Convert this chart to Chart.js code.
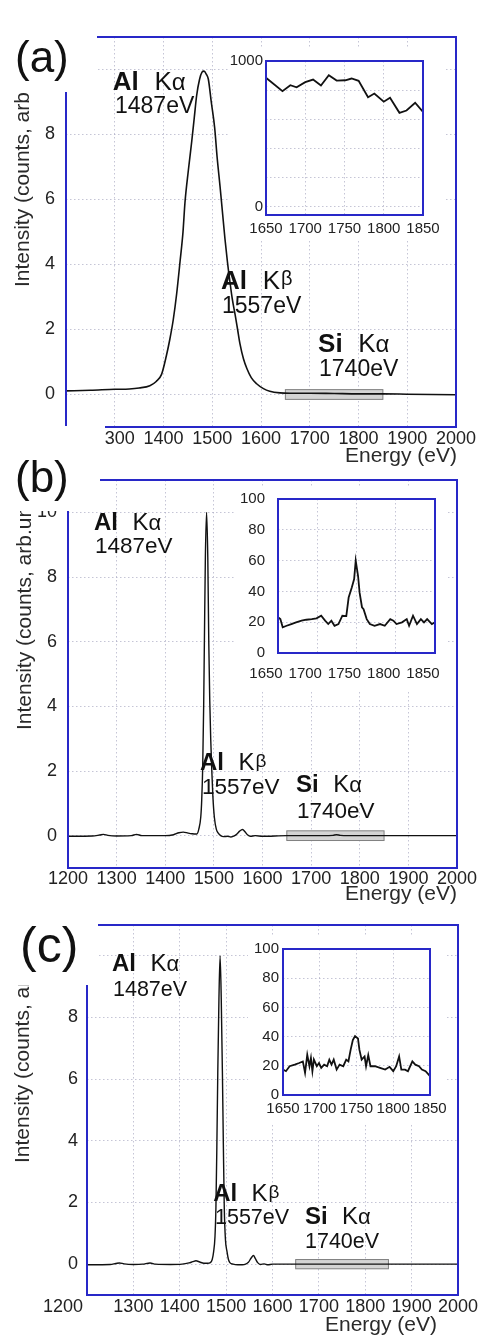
<!DOCTYPE html>
<html>
<head>
<meta charset="utf-8">
<script src="https://cdn.jsdelivr.net/npm/chart.js@4.4.1/dist/chart.umd.min.js"></script>
<style>
  html, body { margin: 0; padding: 0; background: #fff; }
  #page { position: relative; width: 478px; height: 1338px; overflow: hidden; }
  canvas { position: absolute; }
  .inset { background: #fff; }
</style>
</head>
<body>
<div id="page">
  <canvas id="mainA" width="478" height="470" style="left:0;top:0"></canvas>
  <canvas id="insetA" class="inset" width="218" height="192" style="left:228px;top:48px"></canvas>
  <canvas id="mainB" width="478" height="470" style="left:0;top:440px"></canvas>
  <canvas id="insetB" class="inset" width="212" height="202" style="left:234px;top:488px"></canvas>
  <canvas id="mainC" width="478" height="458" style="left:0;top:880px"></canvas>
  <canvas id="insetC" class="inset" width="198" height="188" style="left:248px;top:936px"></canvas>
</div>
<script>
// axis ticks
const xTicks = [1200, 1300, 1400, 1500, 1600, 1700, 1800, 1900, 2000];
const yTicks = [0, 2, 4, 6, 8, 10];
const insetXTicks = [1650, 1700, 1750, 1800, 1850];
const insetATicks = [0, 200, 400, 600, 800, 1000];
const insetBCTicks = [0, 20, 40, 60, 80, 100];
const siWindow = [1650, 1850];

// (a) main spectrum
const energyA = [1200, 1250, 1300, 1330, 1350, 1372, 1385, 1396, 1406, 1413, 1420, 1427, 1434, 1440, 1444, 1451, 1458, 1463, 1468, 1474,
  1479, 1483, 1488, 1492, 1498, 1505, 1510, 1516, 1521, 1526, 1531, 1536, 1541, 1547, 1552, 1557, 1564, 1571, 1580, 1591,
  1605, 1618, 1639, 1660, 1700, 1750, 1800, 1850, 1900, 1950, 2000];
const intensityA = [0.11, 0.13, 0.16, 0.17, 0.2, 0.27, 0.4, 0.62, 1.2, 1.7, 2.3, 3.1, 4.1, 5.0, 5.9, 6.9, 7.8, 8.5, 9.2, 9.7,
  9.92, 9.95, 9.85, 9.7, 9.0, 8.2, 7.3, 6.4, 5.6, 4.8, 4.1, 3.5, 2.95, 2.45, 2.0, 1.55, 1.1, 0.8, 0.52, 0.33,
  0.18, 0.1, 0.05, 0.04, 0.04, 0.03, 0.02, 0.02, 0.01, 0.0, -0.01];

// (b) main spectrum
const energyB = [1200, 1250, 1265, 1273, 1282, 1300, 1330, 1341, 1352, 1380, 1400, 1417, 1428, 1437, 1447, 1455, 1462, 1465, 1469, 1473,
  1475, 1477, 1479, 1480.5, 1482.5, 1485, 1487.5, 1489.5, 1491.5, 1493.5, 1495.5, 1498, 1501, 1505, 1509, 1514, 1520, 1528, 1535, 1542,
  1548, 1553, 1559, 1564, 1569, 1575, 1585, 1600, 1650, 1700, 1745, 1752, 1760, 1800, 1900, 2000];
const intensityB = [-0.02, -0.01, 0.02, 0.04, 0.01, -0.01, 0.0, 0.04, 0.0, 0.0, 0.0, 0.03, 0.09, 0.11, 0.08, 0.06, 0.05, 0.05, 0.2, 0.57,
  1.1, 2.1, 4.0, 6.0, 8.6, 10.0, 8.6, 6.0, 4.2, 3.0, 2.1, 1.2, 0.57, 0.2, 0.08, 0.0, -0.03, -0.02, -0.04, -0.01,
  0.06, 0.14, 0.19, 0.12, 0.03, -0.02, 0.0, -0.02, 0.0, 0.0, 0.01, 0.03, 0.01, 0.0, 0.0, 0.0];

// (c) main spectrum
const energyC = [1200, 1250, 1262, 1270, 1280, 1300, 1320, 1336, 1348, 1380, 1405, 1420, 1428, 1435, 1443, 1452, 1460, 1466, 1470, 1473,
  1476, 1478, 1480, 1482, 1484.5, 1487, 1489.5, 1492, 1494, 1496, 1498.5, 1502, 1505, 1508, 1515, 1525, 1535, 1542, 1548, 1554,
  1559, 1563, 1568, 1574, 1582, 1590, 1600, 1650, 1700, 1800, 1900, 2000];
const intensityC = [-0.02, -0.01, 0.02, 0.04, 0.01, -0.01, 0.0, 0.04, 0.0, -0.01, 0.0, 0.04, 0.08, 0.11, 0.07, 0.03, 0.03, 0.05, 0.15, 0.4,
  0.9, 1.84, 3.8, 6.2, 8.6, 10.0, 8.6, 6.2, 3.9, 1.84, 0.8, 0.4, 0.15, 0.05, 0.0, -0.02, -0.02, 0.0, 0.06, 0.2,
  0.28, 0.18, 0.05, -0.01, 0.01, -0.02, 0.0, 0.0, 0.0, 0.0, 0.0, 0.0];

// insets, 1650-1850 eV
const insetEnergyA = [1650, 1671, 1681, 1689, 1700, 1710, 1720, 1730, 1740, 1751, 1759, 1768, 1780, 1788, 1800, 1808, 1820, 1829, 1840, 1850];
const insetCountsA = [885, 793, 834, 820, 855, 873, 832, 903, 866, 868, 880, 864, 752, 777, 721, 748, 645, 661, 714, 652];

const insetEnergyB = [1650, 1653, 1656, 1661, 1667, 1673, 1680, 1686, 1693, 1699, 1705, 1710, 1714, 1718, 1722, 1727, 1732, 1737, 1740, 1744,
  1747, 1749, 1752, 1754, 1757, 1759, 1763, 1767, 1773, 1780, 1786, 1793, 1797, 1801, 1808, 1814, 1817, 1822, 1827, 1832,
  1836, 1840, 1846, 1850];
const insetCountsB = [23.2, 22, 16.7, 17.7, 18.8, 19.9, 21, 21.6, 22, 22.5, 24.2, 21, 18.8, 21, 17.7, 18.8, 24.2, 24, 36, 42.6,
  48, 60, 50, 39, 29.7, 28.5, 22, 18.8, 17.7, 18.8, 17.7, 22, 21, 18.8, 19.9, 22, 17.7, 24.2, 18.8, 22,
  19.9, 22, 18.8, 20];

const insetEnergyC = [1650, 1654, 1659, 1666, 1672, 1677, 1680, 1683, 1686, 1688, 1690, 1692, 1696, 1699, 1702, 1706, 1710, 1713, 1716, 1719,
  1723, 1727, 1732, 1736, 1739, 1742, 1745, 1748, 1752, 1754, 1757, 1761, 1763, 1766, 1769, 1775, 1782, 1789, 1795, 1800,
  1804, 1808, 1811, 1816, 1820, 1826, 1830, 1835, 1839, 1844, 1850];
const insetCountsC = [17.4, 16.3, 19.7, 20.8, 21.9, 23, 15.2, 27.5, 19.7, 25.3, 16.3, 24.2, 19.7, 21.9, 18.6, 20.8, 19.7, 24.2, 20.8, 24.2,
  17.4, 20.8, 19.7, 24.2, 23, 30.9, 37.6, 40.3, 38.7, 30.9, 24.2, 26.4, 19.7, 27.3, 19.7, 19.7, 18.6, 17.4, 19.3, 16.3,
  19.7, 26.4, 17.4, 17.4, 16.3, 23, 20.8, 19.7, 17.4, 16.3, 13];

// styles
const FONT = '"Liberation Sans", Arial, Helvetica, sans-serif';
const FRAME_BLUE = '#2828c8';
const GRID = 'rgba(150, 150, 180, 0.55)';
const GRID_DASH = [1.5, 2.5];
const TEXT = '#2a2a2a';
const Y_TITLE = 'Intensity (counts, arb.units)';
const siBoxHalf = 0.15;

Chart.defaults.font.family = FONT;
Chart.defaults.color = '#222';

const pts = (xs, ys) => xs.map((x, i) => ({ x, y: ys[i] }));

function peakName(ctx, px, py, el, greek, s) {
  ctx.font = `bold ${s}px ${FONT}`;
  ctx.fillText(el, px, py);
  let cx = px + ctx.measureText(el).width + s * 0.6;
  ctx.font = `${s}px ${FONT}`;
  ctx.fillText('K', cx, py);
  cx += ctx.measureText('K').width;
  if (greek === 'α') {
    ctx.font = `${Math.round(s * 0.92)}px ${FONT}`;
    ctx.fillText('α', cx, py);
  } else {
    ctx.font = `${Math.round(s * 0.78)}px ${FONT}`;
    ctx.fillText('β', cx + 1, py - s * 0.12);
  }
}

function panelDecor(p) {
  return {
    id: 'panelDecor',
    beforeDatasetsDraw(chart) {
      const { ctx, scales: { x, y } } = chart;
      const l = x.getPixelForValue(siWindow[0]);
      const r = x.getPixelForValue(siWindow[1]);
      const t = y.getPixelForValue(siBoxHalf);
      const b = y.getPixelForValue(-siBoxHalf);
      ctx.save();
      ctx.fillStyle = '#d4d4d4';
      ctx.strokeStyle = '#808080';
      ctx.lineWidth = 1;
      ctx.fillRect(l, t, r - l, b - t);
      ctx.strokeRect(l, t, r - l, b - t);
      ctx.restore();
    },
    afterDraw(chart) {
      const { ctx, chartArea: a, scales: { x, y } } = chart;
      const top = p.top;
      ctx.save();
      ctx.strokeStyle = FRAME_BLUE;
      ctx.lineWidth = 2;
      ctx.strokeRect(a.left, a.top, a.right - a.left, a.bottom - a.top);

      // y title, partly hidden by the cover below
      ctx.fillStyle = TEXT;
      ctx.font = `21px ${FONT}`;
      ctx.save();
      ctx.translate(p.yTitle[0], p.yTitle[1] - top);
      ctx.rotate(-Math.PI / 2);
      ctx.textBaseline = 'middle';
      ctx.fillText(Y_TITLE, 0, 0);
      ctx.restore();

      ctx.fillStyle = '#fff';
      p.covers.forEach(([cx, cy, w, h]) => ctx.fillRect(cx, cy - top, w, h));

      ctx.fillStyle = '#111';
      ctx.textBaseline = 'alphabetic';
      ctx.font = `${p.tag.size}px ${FONT}`;
      ctx.fillText(p.tag.text, p.tag.x, p.tag.y - top);

      ctx.fillStyle = TEXT;
      ctx.font = `21px ${FONT}`;
      ctx.textAlign = 'right';
      ctx.fillText('Energy (eV)', p.xTitle[0], p.xTitle[1] - top);

      if (p.shiftedTick) {
        ctx.fillStyle = '#222';
        ctx.font = `18px ${FONT}`;
        ctx.textAlign = 'center';
        ctx.textBaseline = 'middle';
        ctx.fillText(String(p.shiftedTick.value), x.getPixelForValue(p.shiftedTick.value) + p.shiftedTick.dx,
          x.top + p.xPad + 18 * 1.2 / 2);
        ctx.textBaseline = 'alphabetic';
      }

      ctx.textAlign = 'left';
      ctx.fillStyle = '#111';
      p.notes.forEach(n => {
        const px = x.getPixelForValue(n.e);
        const py = y.getPixelForValue(n.v);
        if (n.text) {
          ctx.font = `${p.valueSize}px ${FONT}`;
          ctx.fillText(n.text, px, py);
        } else {
          peakName(ctx, px, py, n.name, n.greek, p.nameSize);
        }
      });
      ctx.restore();
    }
  };
}

function mainChart(id, energy, intensity, p) {
  const hidden = p.shiftedTick ? [p.shiftedTick.value] : [];
  return new Chart(document.getElementById(id), {
    type: 'line',
    data: {
      datasets: [{
        data: pts(energy, intensity),
        borderColor: '#111',
        borderWidth: p.lineWidth,
        pointRadius: 0,
        cubicInterpolationMode: 'monotone',
        fill: false
      }]
    },
    options: {
      responsive: false,
      animation: false,
      layout: { padding: { top: p.padTop, right: p.padRight, left: 0, bottom: 0 } },
      plugins: { legend: { display: false }, tooltip: { enabled: false } },
      scales: {
        x: {
          type: 'linear', min: 1200, max: 2000,
          afterBuildTicks: s => { s.ticks = xTicks.map(v => ({ value: v })); },
          afterFit: s => { s.height = p.xHeight; s.paddingLeft = 0; s.paddingRight = 0; },
          grid: { color: GRID, drawTicks: false },
          border: { display: false, dash: GRID_DASH },
          ticks: {
            font: { size: 18 }, color: '#222', padding: p.xPad, maxRotation: 0, autoSkip: false,
            callback: v => hidden.includes(v) ? '' : String(v)
          }
        },
        y: {
          type: 'linear', min: -1, max: 11,
          afterBuildTicks: s => { s.ticks = yTicks.map(v => ({ value: v })); },
          afterFit: s => { s.width = p.yWidth; s.paddingTop = 0; s.paddingBottom = 0; },
          grid: { color: GRID, drawTicks: false },
          border: { display: false, dash: GRID_DASH },
          ticks: { font: { size: 18 }, color: '#222', padding: p.yPad, callback: v => String(v) }
        }
      }
    },
    plugins: [panelDecor(p)]
  });
}

function insetChart(id, energy, counts, q) {
  return new Chart(document.getElementById(id), {
    type: 'line',
    data: {
      datasets: [{
        data: pts(energy, counts),
        borderColor: '#111',
        borderWidth: 1.8,
        pointRadius: 0,
        tension: 0,
        fill: false
      }]
    },
    options: {
      responsive: false,
      animation: false,
      layout: { padding: { top: q.padTop, right: q.padRight, left: 0, bottom: 0 } },
      plugins: { legend: { display: false }, tooltip: { enabled: false } },
      scales: {
        x: {
          type: 'linear', min: 1650, max: 1850,
          afterBuildTicks: s => { s.ticks = insetXTicks.map(v => ({ value: v })); },
          afterFit: s => { s.height = q.xHeight; s.paddingLeft = 0; s.paddingRight = 0; },
          grid: { color: GRID, drawTicks: false },
          border: { display: false, dash: GRID_DASH },
          ticks: {
            font: { size: 15 }, color: '#222', padding: q.xPad, labelOffset: q.labelOffset,
            maxRotation: 0, autoSkip: false, callback: v => String(v)
          }
        },
        y: {
          type: 'linear', min: q.yMin, max: q.yMax,
          afterBuildTicks: s => { s.ticks = q.yTicks.map(v => ({ value: v })); },
          afterFit: s => { s.width = q.yWidth; s.paddingTop = 0; s.paddingBottom = 0; },
          grid: { color: GRID, drawTicks: false },
          border: { display: false, dash: GRID_DASH },
          ticks: {
            font: { size: 15 }, color: '#222', padding: q.yPad,
            callback: v => q.yLabels.includes(v) ? String(v) : ''
          }
        }
      }
    },
    plugins: [{
      id: 'insetBox',
      afterDraw(chart) {
        const { ctx, chartArea: a } = chart;
        ctx.save();
        ctx.strokeStyle = FRAME_BLUE;
        ctx.lineWidth = 2;
        ctx.strokeRect(a.left, a.top, a.right - a.left, a.bottom - a.top);
        ctx.restore();
      }
    }]
  });
}

mainChart('mainA', energyA, intensityA, {
  top: 0, padTop: 37, padRight: 22, yWidth: 66, xHeight: 43, xPad: 1, yPad: 11, lineWidth: 1.6,
  yTitle: [23, 287], xTitle: [457, 462],
  covers: [[0, 0, 97, 92], [0, 426, 105, 26]],
  tag: { text: '(a)', x: 15, y: 72, size: 44 },
  nameSize: 26, valueSize: 23,
  notes: [
    { name: 'Al', greek: 'α', e: 1296, v: 9.38 }, { text: '1487eV', e: 1300.5, v: 8.65 },
    { name: 'Al', greek: 'β', e: 1518, v: 3.26 }, { text: '1557eV', e: 1520, v: 2.52 },
    { name: 'Si', greek: 'α', e: 1717, v: 1.32 }, { text: '1740eV', e: 1719, v: 0.58 }
  ]
});

mainChart('mainB', energyB, intensityB, {
  top: 440, padTop: 40, padRight: 21, yWidth: 68, xHeight: 42, xPad: 0, yPad: 11, lineWidth: 1.4,
  yTitle: [25, 730], xTitle: [457, 900],
  covers: [[0, 447, 100, 64]],
  tag: { text: '(b)', x: 15, y: 492, size: 44 },
  nameSize: 24, valueSize: 22.5,
  notes: [
    { name: 'Al', greek: 'α', e: 1253.5, v: 9.44 }, { text: '1487eV', e: 1255.5, v: 8.73 },
    { name: 'Al', greek: 'β', e: 1471.5, v: 2.02 }, { text: '1557eV', e: 1475.6, v: 1.30 },
    { name: 'Si', greek: 'α', e: 1669, v: 1.34 }, { text: '1740eV', e: 1671, v: 0.56 }
  ]
});

mainChart('mainC', energyC, intensityC, {
  top: 880, padTop: 45, padRight: 20, yWidth: 87, xHeight: 43, xPad: 1, yPad: 9, lineWidth: 1.4,
  yTitle: [23, 1163], xTitle: [437, 1331],
  covers: [[0, 890, 98, 95]],
  tag: { text: '(c)', x: 20, y: 962, size: 50 },
  shiftedTick: { value: 1200, dx: -24 },
  nameSize: 24, valueSize: 21.5,
  notes: [
    { name: 'Al', greek: 'α', e: 1254, v: 9.51 }, { text: '1487eV', e: 1256, v: 8.69 },
    { name: 'Al', greek: 'β', e: 1472, v: 2.06 }, { text: '1557eV', e: 1476, v: 1.31 },
    { name: 'Si', greek: 'α', e: 1670, v: 1.31 }, { text: '1740eV', e: 1670, v: 0.52 }
  ]
});

insetChart('insetA', insetEnergyA, insetCountsA, {
  padTop: 13, padRight: 23, yWidth: 38, xHeight: 25, xPad: 5, yPad: 3, labelOffset: 0,
  yMin: -55, yMax: 1000, yTicks: insetATicks, yLabels: [0, 1000]
});
insetChart('insetB', insetEnergyB, insetCountsB, {
  padTop: 11, padRight: 11, yWidth: 44, xHeight: 37, xPad: 12, yPad: 13, labelOffset: -12,
  yMin: 0, yMax: 100, yTicks: insetBCTicks, yLabels: insetBCTicks
});
insetChart('insetC', insetEnergyC, insetCountsC, {
  padTop: 13, padRight: 16, yWidth: 35, xHeight: 29, xPad: 5, yPad: 4, labelOffset: 0,
  yMin: 0, yMax: 100, yTicks: insetBCTicks, yLabels: insetBCTicks
});
</script>
</body>
</html>
